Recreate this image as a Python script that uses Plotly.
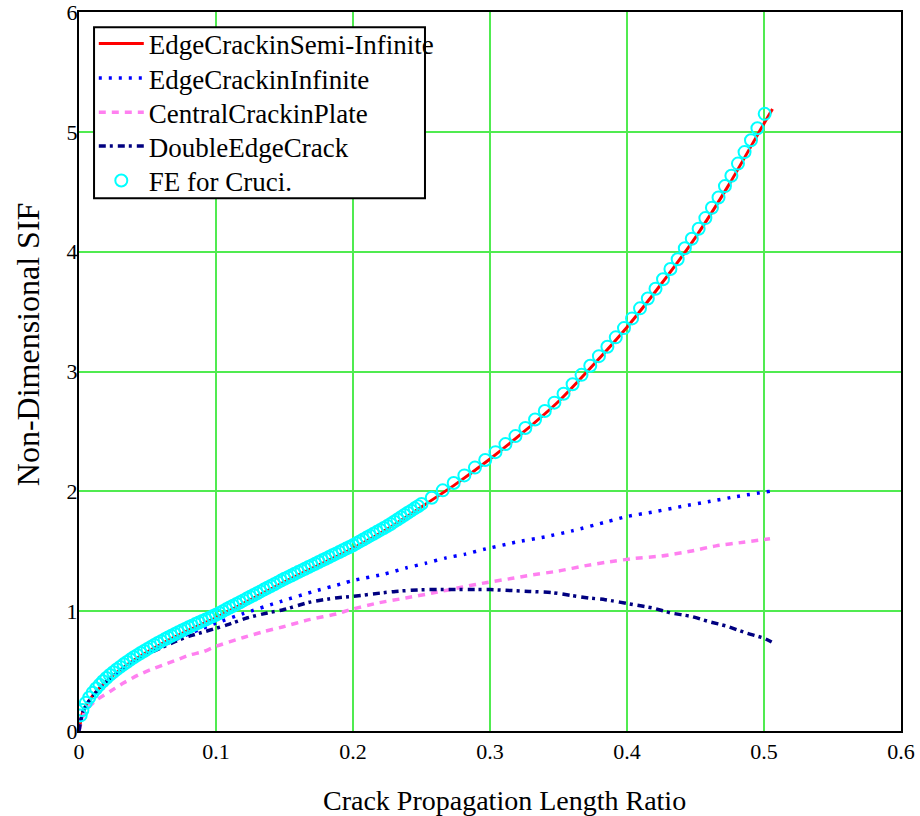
import plotly.graph_objects as go

# Edge crack in a semi-infinite plate
semi_x = [0, 0.0025, 0.005, 0.01, 0.015, 0.02, 0.03, 0.04, 0.05, 0.06, 0.07, 0.08, 0.09,
          0.1, 0.125, 0.15, 0.175, 0.2, 0.225, 0.25, 0.275, 0.3, 0.325, 0.35, 0.375,
          0.4, 0.425, 0.45, 0.475, 0.5, 0.5062]
semi_y = [0, 0.15, 0.21, 0.295, 0.36, 0.417, 0.51, 0.59, 0.66, 0.725, 0.785, 0.841, 0.893,
          0.945, 1.095, 1.245, 1.385, 1.525, 1.685, 1.87, 2.06, 2.27, 2.50, 2.75, 3.05,
          3.37, 3.73, 4.12, 4.57, 5.07, 5.19]

# Edge crack in an infinite plate
inf_x = [0, 0.0025, 0.005, 0.01, 0.02, 0.03, 0.04, 0.05, 0.06, 0.07, 0.08, 0.09, 0.10,
         0.12, 0.147, 0.17, 0.192, 0.2, 0.223, 0.2385, 0.253, 0.268, 0.282, 0.297, 0.3115,
         0.32, 0.34, 0.36, 0.386, 0.40, 0.42, 0.44, 0.46, 0.48, 0.5044]
inf_y = [0, 0.15, 0.21, 0.29, 0.41, 0.50, 0.58, 0.645, 0.705, 0.76, 0.81, 0.855, 0.90,
         0.98, 1.08, 1.16, 1.23, 1.256, 1.31, 1.36, 1.40, 1.445, 1.476, 1.52, 1.557,
         1.579, 1.62, 1.67, 1.748, 1.79, 1.83, 1.874, 1.915, 1.957, 2.0]

# Central crack in a plate
cen_x = [0, 0.0044, 0.013, 0.0226, 0.0324, 0.0434, 0.053, 0.0616, 0.0713, 0.081, 0.0908,
         0.0993, 0.12, 0.135, 0.1485, 0.168, 0.1886, 0.198, 0.218, 0.2385, 0.258, 0.279,
         0.298, 0.3175, 0.327, 0.35, 0.37, 0.386, 0.405, 0.425, 0.446, 0.465, 0.485, 0.5044]
cen_y = [0, 0.165, 0.26, 0.33, 0.40, 0.468, 0.515, 0.551, 0.593, 0.635, 0.6625,
         0.704, 0.78, 0.83, 0.868, 0.929, 0.979, 1.0125, 1.068, 1.11, 1.151, 1.199,
         1.24, 1.276, 1.296, 1.335, 1.38, 1.41, 1.44, 1.46, 1.50, 1.545, 1.575, 1.604]

# Double edge crack
dbl_x = [0, 0.0025, 0.005, 0.01, 0.02, 0.03, 0.04, 0.05, 0.06, 0.07, 0.08, 0.092, 0.108,
         0.123, 0.1375, 0.1485, 0.168, 0.187, 0.2, 0.22, 0.231, 0.25, 0.27, 0.29, 0.30,
         0.31, 0.3285, 0.345, 0.36, 0.372, 0.384, 0.405, 0.419, 0.432, 0.4465, 0.46,
         0.473, 0.487, 0.5, 0.5056]
dbl_y = [0, 0.15, 0.21, 0.29, 0.41, 0.50, 0.575, 0.64, 0.695, 0.745, 0.79, 0.83, 0.885,
         0.945, 0.985, 1.01, 1.074, 1.11, 1.124, 1.151, 1.165, 1.179, 1.18, 1.18, 1.18,
         1.175, 1.165, 1.155, 1.13, 1.11, 1.096, 1.054, 1.026, 0.985, 0.957, 0.9125,
         0.874, 0.818, 0.774, 0.743]

# Finite element results for the cruciform specimen
fe_x = [0.0012, 0.0025, 0.005, 0.0075, 0.01, 0.0125, 0.015, 0.0175, 0.02, 0.0225, 0.025,
        0.0275, 0.03, 0.0325, 0.035, 0.0375, 0.04, 0.0425, 0.045, 0.0475, 0.05,
        0.0525, 0.055, 0.0575, 0.06, 0.0625, 0.065, 0.0675, 0.07, 0.0725, 0.075,
        0.0775, 0.08, 0.0825, 0.085, 0.0875, 0.09, 0.0925, 0.095, 0.0975, 0.1,
        0.1025, 0.105, 0.1075, 0.11, 0.1125, 0.115, 0.1175, 0.12, 0.1225, 0.125,
        0.1275, 0.13, 0.1325, 0.135, 0.1375, 0.14, 0.1425, 0.145, 0.1475, 0.15,
        0.1525, 0.155, 0.1575, 0.16, 0.1625, 0.165, 0.1675, 0.17, 0.1725, 0.175,
        0.1775, 0.18, 0.1825, 0.185, 0.1875, 0.19, 0.1925, 0.195, 0.1975, 0.2,
        0.2025, 0.205, 0.2075, 0.21, 0.2125, 0.215, 0.2175, 0.22, 0.2225, 0.225,
        0.2275, 0.23, 0.2325, 0.235, 0.2375, 0.24, 0.2425, 0.245, 0.2475, 0.25,
        0.2575, 0.2655, 0.2735, 0.2813, 0.289, 0.2965, 0.304, 0.3113, 0.3186, 0.3258,
        0.3329, 0.34, 0.347, 0.3537, 0.3603, 0.3668, 0.3732, 0.3795, 0.3857, 0.3918,
        0.3978, 0.4037, 0.4095, 0.4152, 0.4208, 0.4263, 0.4317, 0.437, 0.4422, 0.4473,
        0.4523, 0.4572, 0.462, 0.4668, 0.4715, 0.4762, 0.481, 0.4858, 0.4905, 0.4952,
        0.5005]
fe_y = [0.13, 0.175, 0.235, 0.28, 0.32, 0.355, 0.385, 0.415, 0.442, 0.468, 0.491,
        0.514, 0.535, 0.556, 0.576, 0.596, 0.615, 0.633, 0.651, 0.668, 0.685,
        0.702, 0.718, 0.734, 0.75, 0.765, 0.78, 0.795, 0.81, 0.824, 0.838,
        0.852, 0.866, 0.879, 0.892, 0.905, 0.918, 0.931, 0.944, 0.957, 0.97,
        0.985, 1.0, 1.015, 1.03, 1.045, 1.06, 1.075, 1.09, 1.105, 1.12,
        1.135, 1.15, 1.165, 1.18, 1.195, 1.21, 1.225, 1.24, 1.255, 1.27,
        1.284, 1.298, 1.312, 1.326, 1.34, 1.354, 1.368, 1.382, 1.396, 1.41,
        1.424, 1.438, 1.452, 1.466, 1.48, 1.494, 1.508, 1.522, 1.536, 1.55,
        1.566, 1.582, 1.598, 1.614, 1.63, 1.646, 1.662, 1.678, 1.694, 1.71,
        1.728, 1.747, 1.765, 1.784, 1.802, 1.821, 1.839, 1.858, 1.876, 1.895,
        1.947, 2.008, 2.069, 2.133, 2.198, 2.261, 2.327, 2.394, 2.461, 2.528,
        2.599, 2.67, 2.74, 2.814, 2.894, 2.972, 3.048, 3.128, 3.207, 3.285,
        3.362, 3.443, 3.527, 3.609, 3.69, 3.77, 3.855, 3.937, 4.028, 4.108,
        4.191, 4.28, 4.366, 4.452, 4.547, 4.634, 4.735, 4.831, 4.93, 5.03,
        5.15]

x_ticks = [0, 0.1, 0.2, 0.3, 0.4, 0.5, 0.6]
x_tick_text = ["0", "0.1", "0.2", "0.3", "0.4", "0.5", "0.6"]
y_ticks = [0, 1, 2, 3, 4, 5, 6]

FONT = "Liberation Serif"
GRID = "rgb(80,235,80)"

fig = go.Figure()
fig.add_trace(go.Scatter(x=semi_x, y=semi_y, mode="lines", name="EdgeCrackinSemi-Infinite",
                         legend="legend",
                         line=dict(color="#FF0000", width=3, shape="spline", smoothing=0.6)))
fig.add_trace(go.Scatter(x=inf_x, y=inf_y, mode="lines", name="EdgeCrackinInfinite",
                         legend="legend2",
                         line=dict(color="#0000FF", width=3.5, dash="3px,7px",
                                   shape="spline", smoothing=0.6)))
fig.add_trace(go.Scatter(x=cen_x, y=cen_y, mode="lines", name="CentralCrackinPlate",
                         legend="legend3",
                         line=dict(color="#FF80F0", width=3.5, dash="7px,6px",
                                   shape="spline", smoothing=0.6)))
fig.add_trace(go.Scatter(x=dbl_x, y=dbl_y, mode="lines", name="DoubleEdgeCrack",
                         legend="legend4",
                         line=dict(color="#000080", width=3.5, dash="7px,4px,3px,5px",
                                   shape="spline", smoothing=0.6)))
fig.add_trace(go.Scatter(x=fe_x, y=fe_y, mode="markers", name="FE for Cruci.",
                         legend="legend5",
                         marker=dict(symbol="circle-open", size=12, color="#00FFFF",
                                     line=dict(width=2, color="#00FFFF"))))

# one legend per row so the rows sit at a tight, fixed pitch inside a common frame
row_y = [0.9555, 0.9075, 0.8600, 0.8130, 0.7650]
legend_names = ["legend", "legend2", "legend3", "legend4", "legend5"]
legend_layout = {}
for name, yy in zip(legend_names, row_y):
    legend_layout[name] = dict(x=0.018, y=yy, xanchor="left", yanchor="middle",
                               bgcolor="rgba(0,0,0,0)", borderwidth=0,
                               font=dict(family=FONT, size=27, color="black"),
                               itemwidth=45)

fig.update_layout(
    width=920, height=816,
    margin=dict(l=79, r=19, t=12, b=85, autoexpand=False),
    paper_bgcolor="white", plot_bgcolor="white",
    font=dict(family=FONT, size=22, color="black"),
    showlegend=True,
    **legend_layout,
    shapes=[dict(type="rect", xref="paper", yref="paper",
                 x0=0.0183, x1=0.4209, y0=0.7409, y1=0.9787,
                 fillcolor="white", line=dict(color="black", width=2), layer="above")],
    annotations=[
        dict(text="Crack Propagation Length Ratio", xref="paper", yref="paper",
             x=0.518, y=-0.096, xanchor="center", yanchor="middle", showarrow=False,
             font=dict(family=FONT, size=28, color="black")),
        dict(text="Non-Dimensional SIF", xref="paper", yref="paper",
             x=-0.062, y=0.538, xanchor="center", yanchor="middle", showarrow=False,
             textangle=-90, font=dict(family=FONT, size=32, color="black")),
    ],
    xaxis=dict(range=[0, 0.6], tickvals=x_ticks, ticktext=x_tick_text,
               showgrid=True, gridcolor=GRID, gridwidth=1.5, automargin=False,
               zeroline=False, showline=True, linecolor="black", linewidth=2,
               mirror=True, ticks="", ticklabeloverflow="allow",
               tickfont=dict(family=FONT, size=22, color="black")),
    yaxis=dict(range=[0, 6], tickvals=y_ticks,
               showgrid=True, gridcolor=GRID, gridwidth=1.5, automargin=False,
               zeroline=False, showline=True, linecolor="black", linewidth=2,
               mirror=True, ticks="", ticklabeloverflow="allow", ticklabelstandoff=-5,
               tickfont=dict(family=FONT, size=22, color="black")),
)

fig.write_html("out.html")
